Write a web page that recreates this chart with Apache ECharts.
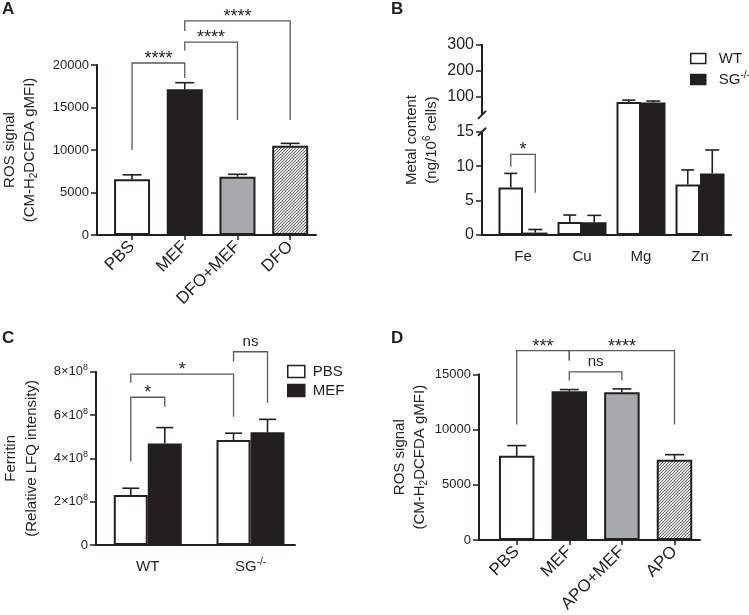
<!DOCTYPE html>
<html><head><meta charset="utf-8">
<script src="https://cdn.jsdelivr.net/npm/echarts@6/dist/echarts.min.js"></script>
<style>html,body{margin:0;padding:0;background:#fff}#c{width:749px;height:615px}</style>
</head><body><div id="c"></div>
<script>
// ---------- data ----------
const catsA = ['PBS', 'MEF', 'DFO+MEF', 'DFO'];
const ticksA = [0, 5000, 10000, 15000, 20000];
const meanA = [6550, 17140, 6860, 10510];
const errA = [7080, 17920, 7140, 10780];
// [group1, half-bar shift1, group2, half-bar shift2, bracket top, leg1 end, leg2 end]
const sigA = [[0, 0, 1, 0, 20235, 10000, 18470], [1, 0, 2, 0, 22700, 21700, 13530], [1, 0, 3, 0, 25180, 24000, 13530]];
const sigALabels = ['****', '****', '****'];

const catsB = ['Fe', 'Cu', 'Mg', 'Zn'];
const seriesB = ['WT', 'SG-/-'];
const wtB = [6.9, 1.9, 79.6, 7.35];
const wtErrB = [8.95, 2.9, 87, 9.45];
const sgB = [0.35, 1.85, 77.4, 8.95];
const sgErrB = [0.8, 2.85, 83.4, 12.35];
const ticksBLow = [0, 5, 10, 15];
const ticksBHigh = [100, 200, 300];
const sigB = [[0, -1, 0, 1, 11.72, 9.92, 6.14]];
const sigBLabels = ['*'];

const catsC = ['WT', 'SG-/-'];
const seriesC = ['PBS', 'MEF'];
const pbsC = [2.31e8, 4.85e8];
const pbsErrC = [2.62e8, 5.16e8];
const mefC = [4.69e8, 5.20e8];
const mefErrC = [5.42e8, 5.80e8];
const ticksC = [0, 2e8, 4e8, 6e8, 8e8];
const sigC = [[0, -1, 0, 1, 6.82e8, 3.85e8, 6.38e8], [0, -1, 1, -1, 7.89e8, 7.49e8, 5.92e8], [1, -1, 1, 1, 8.92e8, 8.46e8, 6.57e8]];
const sigCLabels = ['*', '*', 'ns'];

const catsD = ['PBS', 'MEF', 'APO+MEF', 'APO'];
const meanD = [7620, 13470, 13380, 7270];
const errD = [8550, 13620, 13680, 7730];
const ticksD = [0, 5000, 10000, 15000];
const sigD = [[0, 0, 1, 0, 17135, 10457, 16256], [1, 0, 3, 0, 17135, 16256, 10457], [1, 0, 2, 0, 15228, 14437, 14437]];
const sigDLabels = ['***', '****', 'ns'];

// ---------- styles / scales ----------
const INK = '#231f20';
const FONT = 'Liberation Sans';
const GRAY = '#a7a9ac';
// broken axis of panel B: lower part linear 0..15, upper part compressed
const B_LOW_MAX = 15, B_BREAK_HIGH = 30, B_HIGH_REF = 100, B_HIGH_AT = 20.08, B_HIGH_SCALE = 0.03755;
function bDisp(v) { return v <= B_LOW_MAX ? v : B_HIGH_AT + (v - B_HIGH_REF) * B_HIGH_SCALE; }
const ticksBAll = ticksBLow.concat(ticksBHigh);
const ticksBDisp = ticksBAll.map(bDisp);

function hatch() {
  const c = document.createElement('canvas'); c.width = 3; c.height = 3;
  const g = c.getContext('2d');
  g.fillStyle = '#dcdcdc'; g.fillRect(0, 0, 3, 3);
  g.strokeStyle = '#7a7a7a'; g.lineWidth = 1; g.beginPath();
  g.moveTo(0, 3); g.lineTo(3, 0); g.moveTo(-1, 1); g.lineTo(1, -1); g.moveTo(2, 4); g.lineTo(4, 2);
  g.stroke();
  return c;
}
const HATCH = { image: hatch(), repeat: 'repeat' };
const fillsA = ['#ffffff', INK, GRAY, HATCH];
const fillsD = ['#ffffff', INK, GRAY, HATCH];

const rich = {
  t: { fontSize: 15, lineHeight: 20, fontFamily: FONT, color: INK },
  tc: { fontSize: 15, lineHeight: 21.5, fontFamily: FONT, color: INK },
  sub: { fontSize: 10, lineHeight: 10, padding: [9, 0, 0, 0], fontFamily: FONT, color: INK },
  sup: { fontSize: 10, lineHeight: 10, padding: [0, 0, 9, 0], fontFamily: FONT, color: INK },
  n: { fontSize: 15, fontFamily: FONT, color: INK },
  a: { fontSize: 13, fontFamily: FONT, color: INK },
  s9: { fontSize: 9, lineHeight: 9, padding: [0, 0, 8, 0], fontFamily: FONT, color: INK }
};
function sgText(name) { return name === 'SG-/-' ? '{n|SG}{sup|-/-}' : '{n|' + name + '}'; }

function xAx(gi, cats, min, max, o) {
  const idx = cats.map((_, i) => i);
  return {
    type: 'value', gridIndex: gi, min: min, max: max, splitLine: { show: false },
    axisLine: { onZero: false, lineStyle: { color: INK, width: 2 } },
    axisTick: { show: o.ticks, customValues: idx, length: 5, lineStyle: { color: INK, width: 1.5 } },
    axisLabel: {
      customValues: idx, rotate: o.rotate || 0, margin: o.margin, color: INK,
      fontSize: o.fs, fontFamily: FONT, rich: rich,
      formatter: v => o.rich ? sgText(cats[Math.round(v)]) : cats[Math.round(v)]
    }
  };
}
function yAx(gi, min, max, ticks, name, gap, fmt, fs, showLine) {
  return {
    type: 'value', gridIndex: gi, min: min, max: max, splitLine: { show: false },
    axisLine: { show: showLine, onZero: false, lineStyle: { color: INK, width: 2 } },
    axisTick: { customValues: ticks, length: 6, lineStyle: { color: INK, width: 1.5 } },
    axisLabel: { customValues: ticks, margin: 8, color: INK, fontSize: fs, fontFamily: FONT, rich: rich, formatter: fmt },
    name: name, nameLocation: 'middle', nameRotate: 90, nameGap: gap,
    nameTextStyle: { rich: rich, fontFamily: FONT, color: INK, fontSize: 15 }
  };
}
function barSeries(gi, name, vals, fills, bw) {
  const single = !Array.isArray(fills);
  return {
    type: 'bar', name: name, xAxisIndex: gi, yAxisIndex: gi, barWidth: bw, barGap: '0%', silent: true,
    itemStyle: single ? { color: fills, borderColor: INK, borderWidth: 2 } : { borderColor: INK, borderWidth: 2 },
    data: vals.map((v, i) => single ? [i, v] : ({ value: [i, v], itemStyle: { color: fills[i] } }))
  };
}
function errSeries(gi, means, errs, shift, cap, bw) {
  return {
    type: 'custom', xAxisIndex: gi, yAxisIndex: gi, clip: false, silent: true, z: 3,
    data: means.map((m, i) => [i, m, errs[i], shift]),
    renderItem(params, api) {
      const p0 = api.coord([api.value(0), api.value(1)]);
      const p1 = api.coord([api.value(0), api.value(2)]);
      const cx = p0[0] + api.value(3) * bw / 2;
      const st = { stroke: INK, lineWidth: 1.6 };
      return { type: 'group', children: [
        { type: 'line', shape: { x1: cx, y1: p0[1], x2: cx, y2: p1[1] }, style: st },
        { type: 'line', shape: { x1: cx - cap / 2, y1: p1[1], x2: cx + cap / 2, y2: p1[1] }, style: st }
      ] };
    }
  };
}
function sigSeries(gi, rows, labels, bw) {
  return {
    type: 'custom', xAxisIndex: gi, yAxisIndex: gi, clip: false, silent: true, z: 4,
    data: rows,
    renderItem(params, api) {
      const x1 = api.coord([api.value(0), 0])[0] + api.value(1) * bw / 2;
      const x2 = api.coord([api.value(2), 0])[0] + api.value(3) * bw / 2;
      const yt = api.coord([0, api.value(4)])[1];
      const y1 = api.coord([0, api.value(5)])[1];
      const y2 = api.coord([0, api.value(6)])[1];
      const lab = labels[params.dataIndex];
      const ns = lab === 'ns';
      return { type: 'group', children: [
        { type: 'polyline', shape: { points: [[x1, y1], [x1, yt], [x2, yt], [x2, y2]] }, style: { stroke: '#5a5a5a', lineWidth: 1.3, fill: null } },
        { type: 'text', x: (x1 + x2) / 2, y: yt - (ns ? 10 : 4), style: { text: lab, fill: INK, fontSize: ns ? 15 : 18, fontFamily: FONT, align: 'center', verticalAlign: 'middle' } }
      ] };
    }
  };
}
const letterStyle = { fontSize: 17, fontWeight: 'bold', color: INK, fontFamily: FONT };

const chart = echarts.init(document.getElementById('c'));
chart.setOption({
  animation: false,
  textStyle: { fontFamily: FONT },
  title: [
    { text: 'A', left: 2, top: 1, padding: 0, textStyle: letterStyle },
    { text: 'B', left: 391, top: 1, padding: 0, textStyle: letterStyle },
    { text: 'C', left: 2, top: 330, padding: 0, textStyle: letterStyle },
    { text: 'D', left: 391, top: 330, padding: 0, textStyle: letterStyle }
  ],
  legend: [
    { data: seriesB, orient: 'vertical', left: 690, top: 51, padding: 0, itemWidth: 15, itemHeight: 10, itemGap: 4, icon: 'rect', selectedMode: false,
      itemStyle: { borderColor: INK, borderWidth: 1.5 }, formatter: sgText,
      textStyle: { fontSize: 15, color: INK, fontFamily: FONT, padding: [0, 0, 0, 8], rich: rich } },
    { data: seriesC, orient: 'vertical', left: 287, top: 364, padding: 0, itemWidth: 17, itemHeight: 12, itemGap: 4, icon: 'rect', selectedMode: false,
      itemStyle: { borderColor: INK, borderWidth: 1.5 }, formatter: n => '{n|' + n + '}',
      textStyle: { fontSize: 15, color: INK, fontFamily: FONT, padding: [0, 0, 0, 3], rich: rich } }
  ],
  grid: [
    { left: 97, width: 219, top: 65, height: 170 },
    { left: 482, width: 249, top: 45, height: 190 },
    { left: 96, width: 199, top: 371.7, height: 173.3 },
    { left: 479, width: 221, top: 374.3, height: 170.7 }
  ],
  xAxis: [
    xAx(0, catsA, -0.665, 3.49, { ticks: true, rotate: 45, margin: 9, fs: 17 }),
    xAx(1, catsB, -0.695, 3.525, { ticks: false, margin: 14, fs: 15 }),
    xAx(2, catsC, -0.504, 1.433, { ticks: false, margin: 14, fs: 15, rich: true }),
    xAx(3, catsD, -0.717, 3.485, { ticks: true, rotate: 45, margin: 9, fs: 17 })
  ],
  yAxis: [
    yAx(0, 0, 20000, ticksA, '{t|ROS signal}\n{t|(CM-H}{sub|2}{t|DCFDA gMFI)}', 57, v => String(v), 13, true),
    yAx(1, 0, 27.6, ticksBDisp, '{t|Metal content}\n{t|(ng/10}{sup|6}{t| cells)}', 40,
      v => { const i = ticksBDisp.findIndex(d => Math.abs(d - v) < 1e-6); return i < 0 ? '' : String(ticksBAll[i]); }, 16, false),
    yAx(2, 0, 8e8, ticksC, '{tc|Ferritin}\n{tc|(Relative LFQ intensity)}', 53,
      v => v === 0 ? '{a|0}' : '{a|' + Math.round(v / 1e8) + '×10}{s9|8}', 13, true),
    yAx(3, 0, 15000, ticksD, '{t|ROS signal}\n{t|(CM-H}{sub|2}{t|DCFDA gMFI)}', 49, v => String(v), 13, true)
  ],
  series: [
    // A
    barSeries(0, 'A', meanA, fillsA, 36),
    errSeries(0, meanA, errA, 0, 19, 36),
    sigSeries(0, sigA, sigALabels, 36),
    // B
    barSeries(1, seriesB[0], wtB.map(bDisp), '#ffffff', 24.5),
    barSeries(1, seriesB[1], sgB.map(bDisp), INK, 24.5),
    errSeries(1, wtB.map(bDisp), wtErrB.map(bDisp), -1, 13, 24.5),
    errSeries(1, sgB.map(bDisp), sgErrB.map(bDisp), 1, 14, 24.5),
    sigSeries(1, sigB, sigBLabels, 24.5),
    { // broken y-axis line of panel B
      type: 'custom', xAxisIndex: 1, yAxisIndex: 1, clip: false, silent: true, z: 5,
      data: [[0, bDisp(0), bDisp(B_LOW_MAX), bDisp(B_BREAK_HIGH), bDisp(ticksBHigh[ticksBHigh.length - 1])]],
      renderItem(params, api) {
        const ax = params.coordSys.x;
        const y0 = api.coord([0, api.value(1)])[1];
        const yl = api.coord([0, api.value(2)])[1];
        const yh = api.coord([0, api.value(3)])[1];
        const yt = api.coord([0, api.value(4)])[1];
        const st = { stroke: INK, lineWidth: 2 };
        return { type: 'group', children: [
          { type: 'line', shape: { x1: ax, y1: y0 + 1, x2: ax, y2: yl }, style: st },
          { type: 'line', shape: { x1: ax, y1: yh, x2: ax, y2: yt - 1 }, style: st },
          { type: 'line', shape: { x1: ax - 4, y1: yl + 4, x2: ax + 4, y2: yl - 4 }, style: st },
          { type: 'line', shape: { x1: ax - 4, y1: yh + 4, x2: ax + 4, y2: yh - 4 }, style: st }
        ] };
      }
    },
    // C
    barSeries(2, seriesC[0], pbsC, '#ffffff', 34),
    barSeries(2, seriesC[1], mefC, INK, 34),
    errSeries(2, pbsC, pbsErrC, -1, 17, 34),
    errSeries(2, mefC, mefErrC, 1, 17, 34),
    sigSeries(2, sigC, sigCLabels, 34),
    // D
    barSeries(3, 'D', meanD, fillsD, 35.5),
    errSeries(3, meanD, errD, 0, 19, 35.5),
    sigSeries(3, sigD, sigDLabels, 35.5)
  ]
});
</script>
</body></html>
